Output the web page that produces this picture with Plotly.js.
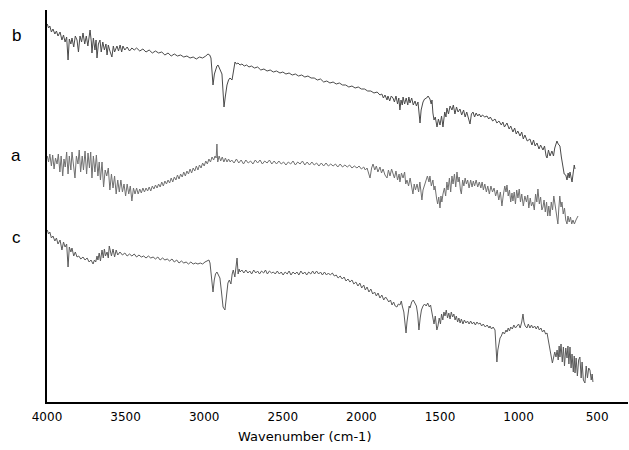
<!DOCTYPE html>
<html>
<head>
<meta charset="utf-8">
<script src="https://cdn.plot.ly/plotly-3.0.1.min.js"></script>
<style>html,body{margin:0;padding:0;background:#fff;}#chart{width:629px;height:450px;}</style>
</head>
<body>
<div id="chart"></div>
<script>
// Wavenumber (cm-1) and transmittance (arbitrary units, traces offset vertically)
var wnB = [3998,3990,3982,3972,3962,3950,3940,3930,3917,3905,3895,3885,3875,3866,3858,3848,3841,3830,3820,3809,3800,3790,3780,3771,3760,3750,3740,3726,3718,3714,3705,3695,3688,3682,3673,3663,3655,3645,3635,3625,3618,3610,3600,3587,3578,3570,3555,3545,3535,3525,3517,3505,3490,3475,3460,3445,3430,3410,3390,3370,3350,3330,3310,3290,3270,3250,3230,3210,3190,3170,3150,3130,3110,3090,3070,3050,3030,3010,2990,2976,2965,2957,2950,2944,2935,2925,2919,2912,2900,2887,2880,2874,2866,2855,2845,2836,2823,2815,2804,2795,2785,2772,2760,2745,2730,2715,2700,2680,2660,2640,2620,2600,2580,2560,2540,2518,2500,2480,2460,2440,2420,2400,2380,2360,2340,2320,2300,2280,2260,2240,2220,2200,2180,2160,2140,2120,2100,2080,2060,2040,2020,2000,1980,1960,1940,1920,1900,1882,1870,1860,1850,1837,1831,1820,1810,1799,1790,1780,1770,1762,1755,1748,1740,1735,1725,1715,1705,1698,1691,1680,1670,1659,1650,1640,1632,1627,1620,1608,1598,1585,1576,1564,1556,1551,1545,1538,1530,1519,1510,1500,1490,1481,1470,1462,1456,1446,1436,1424,1415,1405,1395,1385,1373,1362,1350,1340,1330,1320,1309,1300,1290,1280,1270,1260,1250,1240,1230,1215,1201,1190,1180,1165,1150,1138,1125,1110,1100,1090,1074,1060,1050,1036,1025,1015,1005,991,980,970,960,945,928,915,905,895,883,870,860,845,835,825,819,810,800,788,778,770,762,756,748,737,728,718,710,700,692,685,678,673,666,660,652,646,641];
var tB = [378,374,376,370,373,368,371,366,370,362,367,360,365,342,363,358,364,355,366,362,350,366,360,369,358,366,356,372,360,349,364,352,362,344,358,362,350,360,352,358,347,357,351,345,356,350,356,351,357,350,356,352,355,351,354,352,354,351,353,350,352,349,351,349,350,347,349,346,348,346,347,345,346,344,345,343,345,344,346,348,347,344,330,317,328,335,336,337,333,328,310,295,305,317,322,324,322,330,340,338,339,337,338,336,337,335,336,334,335,332,333,331,332,330,331,329,330,328,329,327,328,326,327,325,326,324,324,322,323,320,321,319,320,318,319,317,317,315,316,314,315,313,313,311,311,309,310,307,308,304,307,302,306,301,306,304,300,306,298,304,292,302,297,305,298,304,297,305,299,304,297,301,296,300,288,279,292,300,303,304,306,303,298,302,289,282,285,275,283,277,286,275,290,285,294,288,296,292,297,288,295,290,293,287,292,285,290,284,278,288,290,285,289,286,288,285,287,285,286,283,285,281,283,279,281,277,280,275,279,273,276,270,274,268,271,266,270,263,267,261,263,257,262,256,259,253,257,252,256,246,244,252,246,251,246,254,258,261,258,256,245,234,228,227,222,229,224,230,225,220,230,237,233];

var wnA = [3998,3990,3982,3972,3964,3955,3946,3936,3928,3918,3910,3900,3892,3884,3875,3866,3858,3848,3841,3832,3822,3813,3803,3795,3786,3776,3768,3758,3748,3739,3730,3722,3714,3705,3695,3686,3676,3668,3660,3650,3640,3630,3620,3610,3600,3590,3580,3570,3560,3550,3540,3530,3520,3510,3500,3490,3480,3470,3460,3450,3440,3430,3420,3410,3400,3390,3380,3370,3360,3350,3340,3330,3320,3310,3300,3290,3280,3270,3260,3250,3240,3230,3220,3210,3200,3190,3180,3170,3160,3150,3140,3130,3120,3110,3100,3090,3080,3070,3060,3050,3040,3030,3020,3010,3000,2990,2980,2970,2960,2950,2940,2931,2924,2919,2914,2905,2895,2885,2875,2865,2855,2845,2835,2825,2810,2795,2780,2765,2750,2735,2720,2705,2690,2675,2660,2645,2630,2615,2600,2585,2570,2555,2540,2525,2510,2495,2480,2465,2450,2435,2420,2405,2390,2375,2360,2345,2330,2315,2300,2285,2270,2255,2240,2225,2210,2195,2180,2165,2150,2135,2120,2105,2090,2075,2060,2045,2028,2015,2000,1985,1975,1964,1955,1945,1935,1926,1915,1905,1895,1882,1872,1862,1850,1837,1828,1818,1808,1799,1790,1780,1770,1760,1755,1745,1735,1725,1718,1710,1700,1690,1680,1672,1664,1656,1646,1636,1628,1620,1615,1608,1600,1590,1580,1570,1564,1555,1545,1538,1532,1522,1515,1508,1500,1494,1488,1481,1472,1464,1456,1449,1440,1432,1424,1417,1408,1400,1392,1385,1378,1370,1364,1356,1348,1340,1332,1324,1315,1305,1296,1288,1280,1270,1260,1250,1240,1232,1224,1215,1205,1196,1186,1176,1166,1156,1146,1136,1126,1116,1106,1098,1088,1080,1074,1066,1058,1050,1042,1036,1028,1020,1012,1004,996,988,980,970,960,950,942,935,926,918,909,900,892,884,877,868,860,852,845,838,830,822,815,808,800,792,784,776,769,762,756,750,744,738,730,724,716,708,700,692,686,678,670,662,654,645,635,622];
var tA = [246,240,248,236,247,233,244,238,248,230,246,226,243,235,250,228,246,232,250,236,224,246,238,252,230,246,232,251,228,249,234,250,224,246,230,247,226,240,222,240,215,232,226,234,212,228,214,226,208,222,210,222,210,218,206,218,208,216,201,214,208,214,208,213,209,214,210,214,211,215,211,216,213,217,214,218,215,220,216,221,218,222,219,224,220,225,222,227,223,228,225,230,226,231,228,233,229,234,231,236,232,237,234,239,236,241,238,243,240,245,242,246,244,258,240,246,241,245,240,244,240,243,240,242,239,243,239,242,238,242,239,241,238,242,239,242,238,241,239,242,238,241,238,241,238,240,237,240,238,241,237,240,238,241,237,240,237,240,237,239,236,239,236,239,236,238,236,238,235,238,235,237,235,237,234,236,234,236,233,235,232,234,230,224,234,238,232,236,230,235,229,233,227,224,232,226,233,229,224,231,222,228,220,229,224,230,218,222,216,224,212,208,218,212,218,210,220,205,202,212,216,222,226,220,226,216,222,212,216,204,198,205,194,206,200,208,214,206,220,212,224,210,226,218,228,215,230,220,225,212,208,222,216,224,218,222,214,222,215,221,216,222,215,220,214,220,212,218,210,216,208,216,210,214,206,212,202,210,196,206,216,210,217,206,212,200,209,201,210,198,212,204,213,200,208,196,206,200,207,194,204,196,200,192,208,200,213,198,205,192,195,202,190,200,186,196,186,200,192,206,198,190,185,178,194,206,195,200,188,194,182,178,186,180,185,178,182,178,182,186];

var wnC = [3998,3990,3982,3972,3962,3950,3940,3930,3917,3905,3895,3885,3875,3866,3858,3848,3841,3830,3820,3809,3798,3785,3771,3758,3745,3732,3720,3707,3698,3690,3682,3676,3668,3660,3650,3642,3635,3628,3618,3610,3604,3599,3590,3580,3570,3560,3550,3536,3520,3505,3490,3475,3460,3445,3430,3415,3400,3385,3370,3355,3340,3325,3310,3295,3280,3265,3250,3235,3220,3205,3190,3175,3160,3145,3130,3115,3100,3085,3070,3055,3040,3025,3010,2995,2982,2970,2963,2955,2944,2936,2928,2919,2910,2900,2890,2880,2868,2858,2849,2840,2830,2822,2815,2805,2798,2791,2784,2778,2772,2760,2748,2735,2722,2710,2698,2685,2672,2660,2648,2635,2622,2610,2598,2585,2572,2560,2548,2535,2522,2510,2498,2485,2472,2460,2448,2435,2422,2410,2398,2385,2372,2360,2348,2335,2322,2310,2298,2285,2272,2260,2248,2235,2222,2210,2198,2185,2172,2160,2148,2135,2122,2110,2098,2085,2073,2060,2048,2035,2022,2010,1998,1985,1975,1964,1952,1940,1928,1916,1905,1894,1882,1870,1858,1846,1837,1826,1815,1805,1795,1785,1774,1765,1755,1746,1740,1730,1722,1716,1710,1703,1696,1691,1680,1670,1659,1650,1642,1634,1626,1618,1608,1598,1588,1578,1568,1560,1552,1545,1538,1530,1520,1513,1505,1497,1490,1482,1475,1468,1460,1452,1444,1436,1428,1420,1412,1404,1396,1388,1380,1372,1364,1354,1345,1335,1325,1315,1305,1295,1285,1275,1265,1255,1245,1235,1225,1212,1200,1188,1182,1172,1162,1150,1144,1138,1132,1124,1118,1110,1100,1090,1080,1074,1066,1058,1050,1040,1030,1020,1010,1000,990,980,972,966,958,947,938,928,918,909,898,888,878,868,858,848,838,828,819,810,800,792,785,778,770,762,755,748,742,737,730,722,715,708,700,692,686,680,673,666,660,652,646,641,634,626,618,610,602,596,588,578,570,562,554,546,538,532,527];
var tC = [172,168,170,164,166,161,164,158,162,152,160,155,158,135,155,150,154,146,150,145,146,143,145,142,144,140,142,138,142,140,146,142,149,141,152,144,153,146,150,144,156,152,146,153,145,152,147,150,147,149,146,148,146,148,145,147,145,146,144,146,144,145,143,145,142,144,142,143,141,143,140,142,139,141,139,140,138,140,138,139,138,139,138,140,141,142,139,125,110,122,128,130,127,124,110,95,92,105,119,122,118,128,132,125,134,144,128,133,130,132,129,132,129,131,128,132,129,131,128,131,129,132,128,131,129,130,128,131,128,130,127,130,128,131,127,130,128,130,127,131,128,130,127,130,128,131,128,131,128,130,127,130,127,129,127,129,126,127,124,126,123,125,121,123,120,122,118,120,116,119,114,117,112,115,110,113,108,110,106,109,104,107,102,105,103,100,102,97,100,96,95,98,97,101,96,90,78,69,80,92,96,94,100,102,99,96,88,72,84,92,96,98,96,99,95,97,90,84,78,86,72,76,84,78,88,82,90,86,92,84,89,83,90,85,88,82,86,80,84,79,83,78,82,79,81,78,81,78,80,77,80,78,79,76,78,75,77,74,76,73,75,72,60,40,52,62,64,66,70,68,72,70,74,71,75,73,77,74,76,78,74,80,88,80,76,74,78,74,77,74,76,73,76,72,74,70,72,68,69,60,52,46,39,44,50,45,52,42,56,45,58,40,55,36,54,44,56,38,55,34,48,30,46,29,44,26,42,45,24,40,22,19,36,24,34,32,22,28,20];

var traceLabels = ['b', 'a', 'c'];
var labelY = [367, 247, 165];
var xTicks = [4000, 3500, 3000, 2500, 2000, 1500, 1000, 500];
var xTitle = 'Wavenumber (cm-1)';

function mk(x, y, color) {
  return {x: x, y: y, type: 'scatter', mode: 'lines',
    line: {color: color, width: 1}, hoverinfo: 'skip', showlegend: false};
}

var data = [mk(wnB, tB, '#4a4a4a'), mk(wnA, tA, '#707070'), mk(wnC, tC, '#5a5a5a')];

var annotations = traceLabels.map(function (t, i) {
  return {text: t, xref: 'paper', yref: 'y', x: -0.053, y: labelY[i],
    showarrow: false, xanchor: 'center', yanchor: 'middle',
    font: {family: 'Liberation Sans, Arial, sans-serif', size: 17, color: '#000'}};
});
annotations.push({text: xTitle, xref: 'paper', yref: 'paper', x: 0.444, y: -0.089,
  showarrow: false, xanchor: 'center', yanchor: 'middle',
  font: {family: 'DejaVu Sans, sans-serif', size: 13, color: '#000'}});

var layout = {
  width: 629, height: 450,
  margin: {l: 47, r: 1, t: 10, b: 48},
  paper_bgcolor: '#fff', plot_bgcolor: '#fff',
  font: {family: 'DejaVu Sans, sans-serif', color: '#000'},
  xaxis: {
    range: [4000, 304], autorange: false,
    tickvals: xTicks, ticktext: xTicks.map(String),
    ticks: '', showgrid: false, zeroline: false,
    showline: true, linecolor: '#000', linewidth: 2,
    tickfont: {family: 'DejaVu Sans, sans-serif', size: 12, color: '#000'}, ticklabelstandoff: 3
  },
  yaxis: {
    range: [0, 392], autorange: false,
    showticklabels: false, ticks: '', showgrid: false, zeroline: false,
    showline: true, linecolor: '#000', linewidth: 2
  },
  annotations: annotations
};

Plotly.newPlot('chart', data, layout, {displayModeBar: false, staticPlot: true});
</script>
</body>
</html>
